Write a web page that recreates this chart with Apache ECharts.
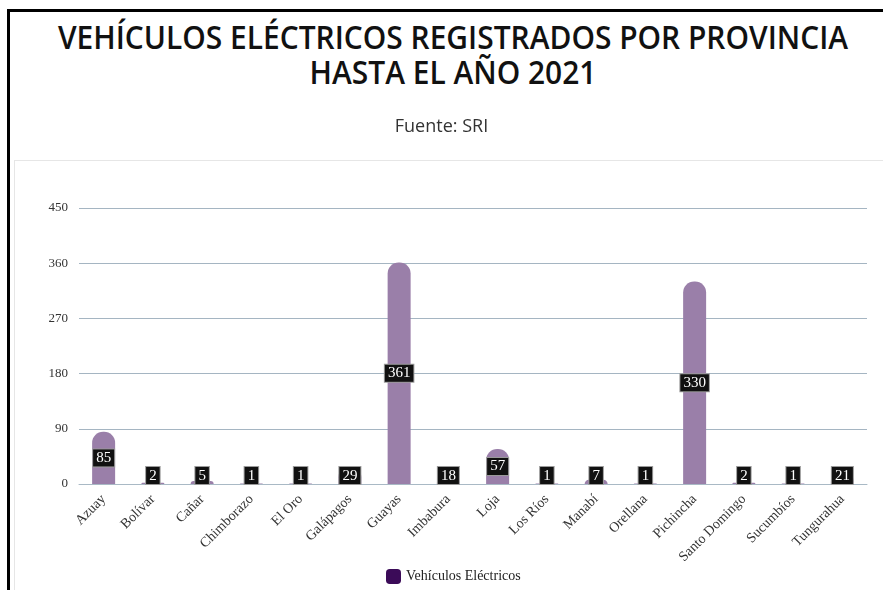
<!DOCTYPE html>
<html>
<head>
<meta charset="utf-8">
<script src="https://cdn.jsdelivr.net/npm/echarts@6/dist/echarts.min.js"></script>
<style>
  html, body { margin: 0; padding: 0; background: #fff; overflow: hidden; }
  #frame { position: absolute; left: 7px; top: 9px; width: 900px; height: 600px; border: 3px solid #000; }
  #panel { position: absolute; left: 14px; top: 160px; width: 900px; height: 500px; border: 1px solid #e6e6e6; }
  #titulo { position: absolute; left: 0; top: 19px; width: 906px; text-align: center;
    font-family: "Open Sans", sans-serif; font-weight: 560; font-size: 32px; line-height: 35px; color: #111;
    transform: scaleX(0.935); transform-origin: 453px 0; }
  #container { position: absolute; left: 0; top: 0; width: 883px; height: 590px; }
</style>
</head>
<body>
<div id="frame"></div>
<div id="panel"></div>
<div id="titulo">VEHÍCULOS ELÉCTRICOS REGISTRADOS POR PROVINCIA<br>HASTA EL AÑO 2021</div>
<div id="container"></div>
<script>
var provincias = ['Azuay', 'Bolívar', 'Cañar', 'Chimborazo', 'El Oro', 'Galápagos', 'Guayas', 'Imbabura', 'Loja', 'Los Ríos',
  'Manabí', 'Orellana', 'Pichincha', 'Santo Domingo', 'Sucumbíos', 'Tungurahua']
var vehiculos = [85, 2, 5, 1, 1, 29, 361, 18, 57, 1, 7, 1, 330, 2, 1, 21]
var yTicks = [0, 90, 180, 270, 360, 450]

var dom = document.getElementById('container')
var myChart = echarts.init(dom)

var serif = '"Liberation Serif", "DejaVu Serif", serif'

// etiquetas pequeñas se apoyan sobre el eje
var barData = vehiculos.map(function(v) {
  if (v < 30) {
    return { value: v, label: { position: 'insideBottom', distance: 0 } }
  }
  return { value: v }
})

var option = {
  backgroundColor: 'transparent',
  title: {
    text: 'Fuente: SRI',
    left: 'center',
    top: 113,
    textStyle: {
      fontFamily: '"Open Sans", sans-serif',
      fontWeight: 'normal',
      fontSize: 18,
      color: '#333'
    }
  },
  legend: {
    bottom: 1,
    left: 381,
    icon: 'roundRect',
    itemWidth: 15,
    itemHeight: 15,
    itemGap: 6,
    textStyle: {
      fontFamily: serif,
      fontSize: 14,
      color: '#222'
    },
    data: [{
      name: 'Vehículos Eléctricos',
      itemStyle: { color: '#3b0b58' }
    }]
  },
  grid: {
    left: 79,
    right: 16,
    top: 208,
    bottom: 106
  },
  xAxis: {
    type: 'category',
    data: provincias,
    axisLine: {
      lineStyle: { color: '#a9b9c5' }
    },
    axisTick: {
      alignWithLabel: true,
      length: 6,
      lineStyle: { color: '#d6d6d6' }
    },
    axisLabel: {
      interval: 0,
      rotate: 45,
      margin: 13,
      fontFamily: serif,
      fontSize: 14,
      color: '#333'
    }
  },
  yAxis: {
    type: 'value',
    min: yTicks[0],
    max: yTicks[yTicks.length - 1],
    interval: 90,
    axisLine: { show: false },
    axisTick: { show: false },
    axisLabel: {
      margin: 11,
      fontFamily: serif,
      fontSize: 13,
      color: '#333'
    },
    splitLine: {
      lineStyle: { color: '#a5b5c2', width: 1 }
    }
  },
  series: [{
    name: 'Vehículos Eléctricos',
    type: 'bar',
    data: barData,
    barWidth: 23,
    itemStyle: {
      color: '#9a7fa9',
      borderRadius: [11, 11, 0, 0]
    },
    label: {
      show: true,
      position: 'inside',
      fontFamily: serif,
      fontSize: 15,
      color: '#fff',
      backgroundColor: '#111',
      borderColor: '#9a9a9a',
      borderWidth: 1,
      padding: [2, 3, 0, 3]
    }
  }]
}

myChart.setOption(option)
</script>
</body>
</html>
